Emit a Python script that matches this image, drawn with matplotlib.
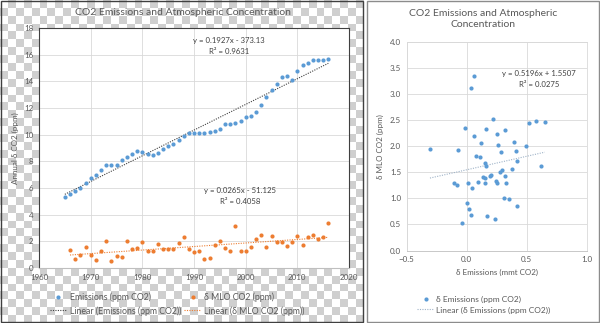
import numpy as np
import matplotlib.pyplot as plt
from matplotlib.colors import ListedColormap
from matplotlib.patches import Rectangle

plt.rcParams['font.family'] = ['Lato', 'DejaVu Sans']

# left chart: yearly values
years_em = np.arange(1965, 2017)
emissions = [5.33, 5.55, 5.75, 6.03, 6.40, 6.76, 7.00, 7.33, 7.75, 7.73,
             7.73, 8.13, 8.35, 8.53, 8.80, 8.73, 8.58, 8.50, 8.63, 8.90,
             9.15, 9.30, 9.60, 9.90, 10.10, 10.15, 10.15, 10.15, 10.17, 10.29,
             10.42, 10.77, 10.83, 10.85, 11.02, 11.29, 11.39, 11.68, 12.25, 12.85,
             13.35, 13.80, 14.29, 14.43, 14.10, 14.79, 15.21, 15.38, 15.58, 15.61,
             15.59, 15.68]
years_mlo = np.arange(1966, 2017)
mlo = [1.32, 0.64, 1.01, 1.56, 0.99, 0.59, 1.30, 2.05, 0.51, 0.90,
       0.86, 2.05, 1.39, 1.47, 1.93, 1.30, 1.29, 1.80, 1.43, 1.45,
       1.40, 1.85, 2.30, 1.42, 1.19, 1.30, 0.67, 0.77, 1.75, 2.05,
       1.53, 1.30, 3.12, 1.30, 1.30, 1.58, 2.20, 2.45, 1.60, 2.40,
       1.93, 1.98, 1.68, 1.95, 2.43, 1.70, 2.30, 2.50, 2.15, 2.33,
       3.35]
fit_em = (0.1927, -373.13)
fit_mlo = (0.0265, -51.125)

# right chart: delta emissions vs delta MLO
d_em = [-0.306, -0.075, -0.014, 0.033, 0.061, 0.058, 0.080, 0.113, 0.122, 0.164,
        0.219, 0.253, 0.261, 0.289, 0.322, 0.397, 0.411, 0.492, 0.522, 0.578,
        0.650, 0.150, 0.158, 0.417, 0.617, -0.106, -0.083, 0.008, 0.042, 0.097,
        0.136, 0.156, 0.156, 0.190, 0.203, 0.244, 0.256, 0.278, 0.294, 0.322,
        0.331, 0.381, 0.006, 0.017, 0.036, 0.172, 0.233, -0.039, 0.311, 0.356,
        0.417]
d_mlo = [1.95, 1.93, 2.36, 3.13, 3.36, 2.20, 1.82, 1.80, 2.06, 2.34,
         2.52, 2.23, 2.03, 1.89, 2.32, 2.08, 1.92, 2.01, 2.45, 2.49,
         2.46, 1.69, 1.62, 1.71, 1.63, 1.29, 1.26, 1.30, 1.20, 1.31,
         1.42, 1.39, 1.30, 1.43, 1.46, 1.34, 1.30, 1.50, 1.55, 1.44,
         1.30, 1.57, 0.92, 0.80, 0.68, 0.66, 0.60, 0.52, 1.01, 0.98,
         0.86]
fit_d = (0.5196, 1.5507)

BLUE = '#5B9BD5'
ORANGE = '#ED7D31'
TXT = '#595959'
GRID = '#d9d9d9'
W, H = 600, 323


def fx(x):
    return x / W


def fy(y):
    return 1 - y / H


fig = plt.figure(figsize=(6, 3.23), dpi=100)

# checkerboard behind the left chart
bg = fig.add_axes([0, 0, fx(364), 1])
bg.axis('off')
checks = np.indices((41, 46)).sum(axis=0) % 2
bg.imshow(checks, cmap=ListedColormap(['white', '#cfcfcf']),
          extent=(0, 364, 323, 0), aspect='auto', interpolation='nearest')

# ---- left chart ----
ax1 = fig.add_axes([fx(39), fy(268), (349 - 39) / W, (268 - 28) / H])
ax1.set_facecolor('white')
ax1.plot(years_em, emissions, 'o', color=BLUE, ms=3, mec='none',
         label='Emissions (ppm CO2)', zorder=3)
xe = np.array([years_em[0], years_em[-1]])
ax1.plot(xe, fit_em[0] * xe + fit_em[1], ls=(0, (1, 1.2)), color='#404040', lw=0.8,
         label='Linear (Emissions (ppm CO2))', zorder=2)
ax1.plot(years_mlo, mlo, 'o', color=ORANGE, ms=3, mec='none',
         label='δ MLO CO2 (ppm)', zorder=3)
xm = np.array([years_mlo[0], years_mlo[-1]])
ax1.plot(xm, fit_mlo[0] * xm + fit_mlo[1], ls=(0, (1, 1.2)), color=ORANGE, lw=0.8,
         label='Linear (δ MLO CO2 (ppm))', zorder=2)
ax1.set_xlim(1960, 2020)
ax1.set_ylim(0, 18)
ax1.set_xticks(range(1960, 2021, 10))
ax1.set_yticks(range(0, 19, 2))
ax1.grid(color=GRID, lw=0.6)
ax1.set_axisbelow(True)
ax1.tick_params(length=0, labelsize=5.7, labelcolor=TXT, pad=4)
for s in ['top', 'right', 'left']:
    ax1.spines[s].set_color('#404040')
    ax1.spines[s].set_linewidth(0.8)
ax1.spines['bottom'].set_color('#bfbfbf')
ax1.set_ylabel('Annual δ CO2 (ppm)', fontsize=5.8, color=TXT, labelpad=4)

fig.text(fx(183), fy(12.5), 'CO2 Emissions and Atmospheric Concentration',
         ha='center', va='center', fontsize=7.5, color=TXT)
fig.text(fx(229), fy(40), 'y = 0.1927x - 373.13', ha='center', va='center',
         fontsize=5.6, color='#404040')
fig.text(fx(229), fy(51), 'R² = 0.9631', ha='center', va='center',
         fontsize=5.6, color='#404040')
fig.text(fx(240), fy(190.3), 'y = 0.0265x - 51.125', ha='center', va='center',
         fontsize=5.6, color='#404040')
fig.text(fx(240), fy(201.3), 'R² = 0.4058', ha='center', va='center',
         fontsize=5.6, color='#404040')

h, l = ax1.get_legend_handles_labels()
fig.legend(h, l, ncol=2,
           loc='center', bbox_to_anchor=(fx(177), fy(304)), frameon=False,
           fontsize=6.3, labelcolor=TXT, handlelength=2.0, handletextpad=0.3,
           columnspacing=0.3, labelspacing=0.45)

# ---- right chart ----
ax2 = fig.add_axes([fx(406.7), fy(250.5), 180 / W, (250.5 - 42.3) / H])
ax2.plot(d_em, d_mlo, 'o', color=BLUE, ms=3, mec='none',
         label='δ Emissions (ppm CO2)', zorder=3)
xd = np.array([min(d_em), max(d_em)])
ax2.plot(xd, fit_d[0] * xd + fit_d[1], ls=(0, (1, 1.2)), color='#9fb3c8', lw=0.8,
         label='Linear (δ Emissions (ppm CO2))', zorder=2)
ax2.set_xlim(-0.5, 1.0)
ax2.set_ylim(0, 4)
ax2.set_xticks(np.arange(-0.5, 1.01, 0.5))
ax2.set_yticks(np.arange(0, 4.01, 0.5))
ax2.xaxis.set_major_formatter('{x:.1f}')
ax2.yaxis.set_major_formatter('{x:.1f}')
ax2.grid(color=GRID, lw=0.6)
ax2.set_axisbelow(True)
ax2.tick_params(length=0, labelsize=5.8, labelcolor=TXT, pad=4)
for s in ax2.spines.values():
    s.set_color(GRID)
    s.set_linewidth(0.6)
ax2.spines['bottom'].set_color('#bfbfbf')
ax2.set_xlabel('δ Emissions (mmt CO2)', fontsize=5.8, color=TXT, labelpad=4)
ax2.set_ylabel('δ MLO CO2 (ppm)', fontsize=5.8, color=TXT, labelpad=4)

fig.text(fx(483), fy(19), 'CO2 Emissions and Atmospheric\nConcentration',
         ha='center', va='center', fontsize=7.5, color=TXT, linespacing=1.4)
fig.text(fx(539), fy(73.7), 'y = 0.5196x + 1.5507', ha='center', va='center',
         fontsize=5.6, color='#404040')
fig.text(fx(539), fy(85), 'R² = 0.0275', ha='center', va='center',
         fontsize=5.6, color='#404040')
ax2.legend(loc='center', bbox_to_anchor=(fx(484), fy(304.5)),
           bbox_transform=fig.transFigure, frameon=False, fontsize=6.0,
           labelcolor=TXT, handlelength=2.0, handletextpad=0.3, labelspacing=0.45)

# panel borders
fig.patches.append(Rectangle((fx(1), fy(322)), 362 / W, 321 / H, fill=False,
                             ec='#404040', lw=1, transform=fig.transFigure))
fig.patches.append(Rectangle((fx(367), fy(322)), 232 / W, 321 / H, fill=False,
                             ec='#8c8c8c', lw=1, transform=fig.transFigure))

fig.savefig('out.png', dpi=100)
